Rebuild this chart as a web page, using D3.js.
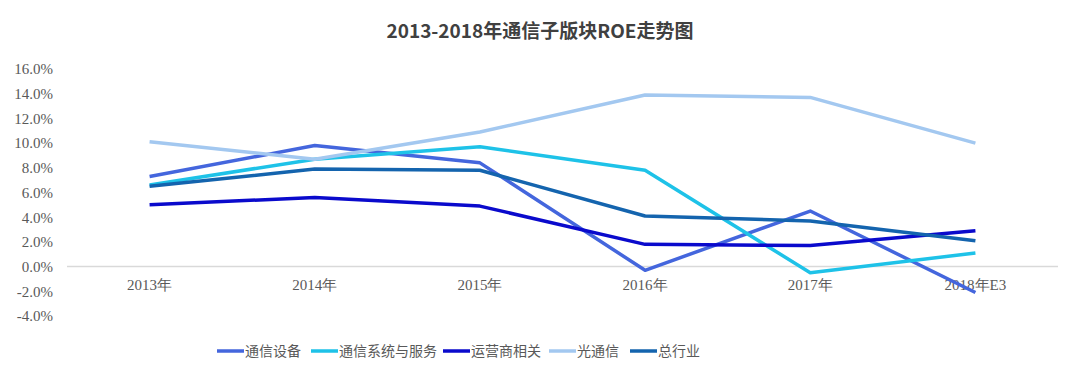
<!DOCTYPE html>
<meta charset="utf-8">
<script src="https://d3js.org/d3.v7.min.js"></script>
<style>
    body { margin: 0; background: #fff; }
    .title { font-family: "Noto Sans CJK SC", sans-serif; font-weight: bold; font-size: 19px; fill: #404040; }
    .legend text { font-family: "Noto Sans CJK SC", sans-serif; font-size: 14px; fill: #595959; }
</style>
<body>
<svg width="1080" height="377" class="chart"></svg>
</body>
<script>
    const years = ['2013年', '2014年', '2015年', '2016年', '2017年', '2018年E3'];
    const seriesNames = ['通信设备', '通信系统与服务', '运营商相关', '光通信', '总行业'];
    const equipment = [7.3, 9.8, 8.4, -0.3, 4.5, -2.1];
    const systems = [6.6, 8.7, 9.7, 7.8, -0.5, 1.1];
    const operators = [5.0, 5.6, 4.9, 1.8, 1.7, 2.9];
    const optical = [10.1, 8.7, 10.9, 13.9, 13.7, 10.0];
    const total = [6.5, 7.9, 7.8, 4.1, 3.7, 2.1];
    const yTicks = [-4, -2, 0, 2, 4, 6, 8, 10, 12, 14, 16];
    const colors = ['#4466dd', '#1ec2e8', '#0a0acc', '#a3c8f0', '#1464ae'];

    const series = [equipment, systems, operators, optical, total].map((values, i) => ({
        name: seriesNames[i],
        color: colors[i],
        values: values
    }));

    const svg = d3.select('.chart');
    const margin = { top: 69, right: 22, bottom: 61, left: 67 },
        width = 1080 - margin.left - margin.right,
        height = 377 - margin.top - margin.bottom;

    svg.append('text')
        .attr('class', 'title')
        .attr('x', 540)
        .attr('y', 38)
        .attr('text-anchor', 'middle')
        .text('2013-2018年通信子版块ROE走势图');

    const g = svg.append('g')
        .attr('transform', 'translate(' + margin.left + ',' + margin.top + ')');

    const x = d3.scaleBand().domain(years).range([0, width]);
    const y = d3.scaleLinear().domain([-4, 16]).range([height, 0]);

    // y axis labels only
    const yAxis = g.append('g')
        .call(d3.axisLeft(y).tickValues(yTicks).tickSize(0).tickPadding(14)
            .tickFormat(d => d.toFixed(1) + '%'));
    yAxis.select('.domain').remove();

    // zero line
    g.append('line')
        .attr('x1', 0)
        .attr('x2', width)
        .attr('y1', y(0))
        .attr('y2', y(0))
        .attr('stroke', '#d9d9d9')
        .attr('stroke-width', 1.5);

    const xAxis = g.append('g')
        .attr('transform', 'translate(0,' + y(0) + ')')
        .call(d3.axisBottom(x).tickSize(0).tickPadding(13));
    xAxis.select('.domain').remove();

    g.selectAll('.tick text')
        .attr('font-family', '"Liberation Serif", "Times New Roman", serif')
        .attr('font-size', 15)
        .attr('fill', '#595959');

    const line = d3.line()
        .x((d, i) => x(years[i]) + x.bandwidth() / 2)
        .y(d => y(d));

    g.selectAll('.series')
        .data(series)
        .enter()
        .append('path')
        .attr('class', 'series')
        .attr('fill', 'none')
        .attr('stroke', d => d.color)
        .attr('stroke-width', 3.5)
        .attr('stroke-linejoin', 'round')
        .attr('d', d => line(d.values));

    // legend
    const legendX = [217, 311, 443, 549, 630];
    const legend = svg.append('g').attr('class', 'legend');
    const item = legend.selectAll('g')
        .data(series)
        .enter()
        .append('g')
        .attr('transform', (d, i) => 'translate(' + legendX[i] + ',351)');
    item.append('line')
        .attr('x1', 0)
        .attr('x2', 27)
        .attr('stroke', d => d.color)
        .attr('stroke-width', 3.5);
    item.append('text')
        .attr('x', 28)
        .attr('dy', '0.35em')
        .text(d => d.name);
</script>
